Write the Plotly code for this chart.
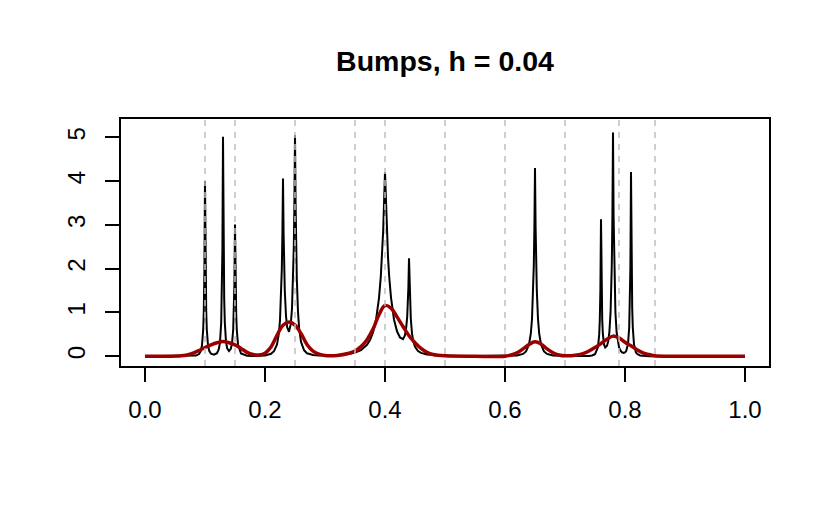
import plotly.graph_objects as go

# Bumps signal (black), sampled densely around each spike
x_bumps = [0.0, 0.05, 0.07, 0.08, 0.085, 0.09, 0.093, 0.095, 0.097, 0.098, 0.099, 0.10,
           0.101, 0.102, 0.103, 0.105, 0.107, 0.11, 0.115, 0.12, 0.123, 0.125, 0.127, 0.128,
           0.129, 0.13, 0.131, 0.132, 0.133, 0.135, 0.137, 0.14, 0.143, 0.145, 0.147, 0.148,
           0.149, 0.15, 0.151, 0.152, 0.153, 0.155, 0.16, 0.17, 0.18, 0.19, 0.20, 0.21,
           0.215, 0.22, 0.223, 0.225, 0.227, 0.228, 0.229, 0.23, 0.231, 0.232, 0.233, 0.235,
           0.237, 0.24, 0.243, 0.245, 0.247, 0.248, 0.249, 0.25, 0.251, 0.252, 0.253, 0.255,
           0.257, 0.26, 0.265, 0.27, 0.28, 0.29, 0.30, 0.32, 0.34, 0.35, 0.36, 0.37,
           0.375, 0.38, 0.385, 0.39, 0.393, 0.395, 0.397, 0.40, 0.403, 0.405, 0.407, 0.41,
           0.415, 0.42, 0.425, 0.43, 0.433, 0.435, 0.437, 0.438, 0.439, 0.44, 0.441, 0.442,
           0.443, 0.445, 0.447, 0.45, 0.455, 0.46, 0.47, 0.48, 0.50, 0.52, 0.55, 0.58,
           0.60, 0.62, 0.63, 0.635, 0.64, 0.643, 0.645, 0.647, 0.648, 0.649, 0.65, 0.651,
           0.652, 0.653, 0.655, 0.657, 0.66, 0.665, 0.67, 0.68, 0.70, 0.72, 0.73, 0.74,
           0.745, 0.75, 0.755, 0.757, 0.758, 0.759, 0.76, 0.761, 0.762, 0.763, 0.765, 0.767,
           0.77, 0.772, 0.774, 0.776, 0.777, 0.778, 0.779, 0.78, 0.781, 0.782, 0.783, 0.784,
           0.786, 0.788, 0.79, 0.792, 0.795, 0.798, 0.80, 0.802, 0.805, 0.807, 0.808, 0.809,
           0.81, 0.811, 0.812, 0.813, 0.815, 0.818, 0.82, 0.825, 0.83, 0.84, 0.86, 0.90, 1.0]
y_bumps = [0.0, 0.0, 0.002, 0.007, 0.016, 0.05, 0.12, 0.25, 0.61, 1.04, 1.93, 4.0,
           1.93, 1.04, 0.61, 0.25, 0.125, 0.058, 0.037, 0.07, 0.16, 0.32, 0.77, 1.31,
           2.42, 5.01, 2.42, 1.31, 0.78, 0.33, 0.18, 0.12, 0.17, 0.29, 0.61, 0.96,
           1.63, 3.01, 1.63, 0.96, 0.6, 0.27, 0.063, 0.012, 0.007, 0.009, 0.02, 0.057,
           0.115, 0.27, 0.51, 0.82, 1.44, 1.98, 2.79, 4.06, 2.80, 2.01, 1.49, 0.92,
           0.66, 0.56, 0.74, 1.09, 1.83, 2.48, 3.47, 5.05, 3.46, 2.45, 1.78, 1.01,
           0.62, 0.33, 0.14, 0.068, 0.029, 0.018, 0.017, 0.025, 0.052, 0.083, 0.142, 0.263,
           0.373, 0.545, 0.83, 1.33, 1.82, 2.27, 2.87, 4.2, 2.87, 2.27, 1.82, 1.34,
           0.84, 0.57, 0.43, 0.39, 0.47, 0.61, 0.9, 1.17, 1.58, 2.24, 1.57, 1.14,
           0.855, 0.52, 0.35, 0.214, 0.119, 0.078, 0.042, 0.027, 0.013, 0.007, 0.0035, 0.003,
           0.0045, 0.018, 0.054, 0.11, 0.27, 0.515, 0.85, 1.51, 2.07, 2.94, 4.3, 2.94,
           2.07, 1.51, 0.85, 0.515, 0.27, 0.11, 0.054, 0.018, 0.004, 0.0025, 0.004, 0.009,
           0.018, 0.048, 0.21, 0.5, 0.83, 1.52, 3.13, 1.53, 0.85, 0.53, 0.27, 0.2,
           0.24, 0.34, 0.56, 1.02, 1.44, 2.1, 3.19, 5.11, 3.19, 2.1, 1.43, 1.01,
           0.55, 0.33, 0.21, 0.14, 0.091, 0.077, 0.086, 0.118, 0.28, 0.655, 1.11, 2.04,
           4.21, 2.04, 1.1, 0.65, 0.27, 0.097, 0.056, 0.019, 0.0085, 0.003, 0.001, 0.0, 0.0]

# kernel smooth, h = 0.04 (red)
x_smooth = [0.0, 0.04, 0.06, 0.07, 0.08, 0.09, 0.10, 0.11, 0.12, 0.13, 0.14, 0.15,
            0.16, 0.17, 0.18, 0.19, 0.20, 0.21, 0.22, 0.23, 0.24, 0.25, 0.26, 0.27,
            0.28, 0.29, 0.30, 0.32, 0.34, 0.35, 0.36, 0.37, 0.38, 0.39, 0.40, 0.41,
            0.42, 0.43, 0.44, 0.45, 0.46, 0.47, 0.48, 0.50, 0.55, 0.60, 0.61, 0.62,
            0.63, 0.64, 0.65, 0.66, 0.67, 0.68, 0.69, 0.70, 0.72, 0.73, 0.74, 0.75,
            0.76, 0.77, 0.78, 0.79, 0.80, 0.81, 0.82, 0.83, 0.84, 0.85, 0.87, 0.90, 1.0]
y_smooth = [0.0, 0.0, 0.01, 0.03, 0.07, 0.13, 0.2, 0.26, 0.31, 0.34, 0.31, 0.26,
            0.18, 0.09, 0.04, 0.03, 0.07, 0.21, 0.48, 0.71, 0.78, 0.71, 0.52, 0.27,
            0.12, 0.05, 0.02, 0.02, 0.07, 0.12, 0.22, 0.38, 0.62, 0.95, 1.16, 1.1,
            0.9, 0.68, 0.47, 0.31, 0.18, 0.09, 0.04, 0.01, 0.0, 0.0, 0.03, 0.08,
            0.17, 0.27, 0.33, 0.28, 0.17, 0.08, 0.03, 0.01, 0.03, 0.06, 0.12, 0.2,
            0.29, 0.39, 0.46, 0.42, 0.32, 0.24, 0.15, 0.08, 0.04, 0.01, 0.0, 0.0, 0.0]

# dashed reference lines
knots = [0.1, 0.15, 0.25, 0.35, 0.4, 0.5, 0.6, 0.7, 0.79, 0.85]

x_ticks = [0.0, 0.2, 0.4, 0.6, 0.8, 1.0]
y_ticks = [0, 1, 2, 3, 4, 5]

fig = go.Figure()

for k in knots:
    fig.add_vline(x=k, line_dash="6px,6px", line_color="#bebebe", line_width=1.5)

fig.add_trace(go.Scatter(x=x_bumps, y=y_bumps, mode='lines',
                         line=dict(color='black', width=2)))
fig.add_trace(go.Scatter(x=x_smooth, y=y_smooth, mode='lines', line_shape='spline',
                         line=dict(color='#9b0000', width=3.5)))

fig.update_layout(
    width=830,
    height=516,
    showlegend=False,
    plot_bgcolor='white',
    paper_bgcolor='white',
    margin=dict(l=121, r=61, t=119, b=150),
    font=dict(family="Liberation Sans, Arial, sans-serif", size=24, color='black'),
    title=dict(text="<b>Bumps, h = 0.04</b>", x=0.5, xanchor='center', xref='paper',
               y=(516 - 61) / 516, yanchor='middle', yref='container',
               font=dict(size=28.5)),
)
fig.update_xaxes(range=[-0.04, 1.04], tickvals=x_ticks,
                 ticktext=[f"{v:.1f}" for v in x_ticks],
                 showgrid=False, zeroline=False, showline=True, mirror=True,
                 linecolor='black', linewidth=2, ticks='outside', ticklen=14,
                 tickwidth=2, tickcolor='black', ticklabelstandoff=7)
fig.update_yaxes(range=[-0.222, 5.418], tickvals=y_ticks,
                 showgrid=False, zeroline=False, showline=True, mirror=True,
                 linecolor='black', linewidth=2, ticks='outside', ticklen=14,
                 tickwidth=2, tickcolor='black', tickangle=-90, ticklabelstandoff=10)

# page body has a default 8px margin; drop it so the figure sits at 0,0
fig.write_html("out.html", config={'displayModeBar': False},
               post_script="document.body.style.margin='0';")
